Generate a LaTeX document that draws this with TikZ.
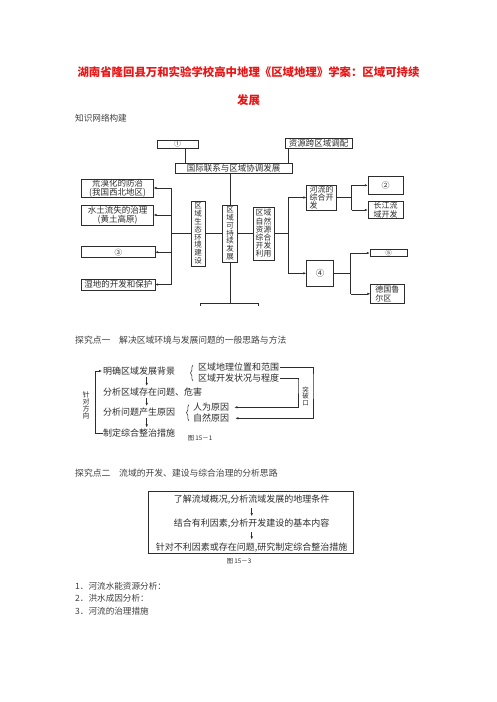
\documentclass[tikz,border=0pt]{standalone}
\usepackage{fontspec}
\setmainfont{Noto Sans CJK SC}
\usetikzlibrary{arrows.meta,decorations.pathreplacing,calc}
\definecolor{titlered}{RGB}{232,22,22}
\definecolor{ink}{RGB}{45,45,45}
\newcommand{\myfs}[1]{\fontsize{#1}{#1}\selectfont}
\begin{document}
\begin{tikzpicture}[x=1pt,y=-1pt,
  bx/.style={draw=ink,line width=0.5pt,inner sep=0pt,align=center,text=ink,font=\fontsize{8.5}{9}\selectfont},
  vt/.style={font=\fontsize{7.5}{7.8}\selectfont},
  vt2/.style={font=\fontsize{7.8}{8.2}\selectfont},
  ln/.style={draw=ink,line width=0.5pt},
  arr/.style={ln,-{Latex[length=3pt,width=2.4pt]}},
  tx/.style={anchor=west,inner sep=0pt,text=ink,font=\myfs{9}},
  lbl/.style={anchor=west,inner sep=0pt,text=black!75,font=\myfs{8.8}},
  figcap/.style={inner sep=0pt,text=ink,font=\myfs{6.3}}]
\useasboundingbox (0,0) rectangle (496,702);
\fill[white] (0,0) rectangle (496,702);

% title
\node[inner sep=0pt,text=titlered,font=\bfseries\myfs{11.4}] (title1) at (248.5,72) {湖南省隆回县万和实验学校高中地理《区域地理》学案：区域可持续};
\node[inner sep=0pt,text=titlered,font=\bfseries\myfs{11.4}] (title2) at (248.5,100) {发展};
\node[lbl,font=\myfs{8.6}] (sec0) at (75,118) {知识网络构建};

% ---------- diagram 1 ----------
\node[bx,minimum width=41pt,minimum height=8.5pt,font=\myfs{7}] (n1) at (177.5,144) {①};
\node[bx,minimum width=67pt,minimum height=10pt] (res) at (318.5,143) {资源跨区域调配};
\node[bx,minimum width=117pt,minimum height=10pt] (intl) at (233.5,168) {国际联系与区域协调发展};
\node[bx,vt,minimum width=14.6pt,minimum height=57pt] (sus) at (230,233.5) {区\\域\\可\\持\\续\\发\\展};
\node[bx,vt,minimum width=14pt,minimum height=65pt] (eco) at (198,233.5) {区\\域\\生\\态\\环\\境\\建\\设};
\node[bx,vt2,minimum width=21pt,minimum height=53pt] (nat) at (263.5,233.5) {区域\\自然\\资源\\综合\\开发\\利用};

\node[bx,minimum width=71.6pt,minimum height=17.4pt] (L1) at (117.5,188) {荒漠化的防治\\(我国西北地区)};
\node[bx,minimum width=71.6pt,minimum height=20pt] (L2) at (117.5,215) {水土流失的治理\\(黄土高原)};
\node[bx,minimum width=73.3pt,minimum height=11pt,font=\myfs{7.5}] (L3) at (118.3,252.2) {③};
\node[bx,minimum width=73.3pt,minimum height=11pt] (L4) at (118.3,284.5) {湿地的开发和保护};

\node[bx,align=left,minimum width=30pt,minimum height=25pt,font=\fontsize{8}{8.3}\selectfont] (river) at (321.7,197.5) {河流的\\综合开\\发};
\node[bx,minimum width=27pt,minimum height=26.7pt,font=\myfs{8.5}] (four) at (320,273.3) {④};
\node[bx,minimum width=35pt,minimum height=17.3pt,font=\myfs{8}] (two) at (385.5,185.3) {②};
\node[bx,align=left,minimum width=35pt,minimum height=16.7pt,font=\fontsize{8}{8.3}\selectfont] (cj) at (385.5,210) {长江流\\域开发};
\node[bx,minimum width=37pt,minimum height=7.4pt,font=\myfs{6.5}] (five) at (388.5,253) {⑤};
\node[bx,align=left,minimum width=33.3pt,minimum height=19pt,font=\fontsize{8}{8.3}\selectfont] (ruhr) at (387.3,293.8) {德国鲁\\尔区};

\begin{scope}
\clip (0,0) rectangle (496,305.5);
\node[bx,minimum width=58pt,minimum height=16pt] (bbox) at (229,311) {};
\end{scope}

% connectors
\draw[ln] ([xshift=7.5pt]n1.south) -- ([xshift=7.5pt]n1.south |- intl.north);
\draw[ln] ([xshift=-30.5pt]res.south) -- ([xshift=-30.5pt]res.south |- intl.north);
\draw[ln] (sus.north |- intl.south) -- (sus.north);
\draw[ln] (sus.south) -- (sus.south |- bbox.north);
\coordinate (lv) at (171,233.5);
\coordinate (rv) at (288.3,233.5);
\draw[ln] (eco.east) -- (sus.west);
\draw[ln] (sus.east) -- (nat.west);
\draw[ln] (eco.west) -- (lv);
\draw[ln] (lv |- L1.east) -- (lv |- L4.east);
\foreach \b in {L1,L2,L3,L4} \draw[arr] (lv |- \b.east) -- (\b.east);
\draw[ln] (nat.east) -- (rv);
\draw[ln] (rv |- river.west) -- (rv |- four.west);
\draw[arr] (rv |- river.west) -- (river.west);
\draw[arr] (rv |- four.west) -- (four.west);
\coordinate (rv2) at (351.7,197.5);
\draw[ln] (river.east) -- (rv2);
\draw[ln] (rv2 |- two.west) -- (rv2 |- cj.west);
\draw[arr] (rv2 |- two.west) -- (two.west);
\draw[arr] (rv2 |- cj.west) -- (cj.west);
\coordinate (rv3) at (350.7,273.3);
\draw[ln] (four.east) -- (rv3);
\draw[ln] (rv3 |- five.west) -- (rv3 |- ruhr.west);
\draw[arr] (rv3 |- five.west) -- (five.west);
\draw[arr] (rv3 |- ruhr.west) -- (ruhr.west);

% ---------- section 1 ----------
\node[lbl] (sec1) at (75,340) {探究点一\quad 解决区域环境与发展问题的一般思路与方法};

\node[tx] (t1) at (103,371) {明确区域发展背景};
\node[tx] (t2) at (103,391.7) {分析区域存在问题、危害};
\node[tx] (t3) at (103,411.7) {分析问题产生原因};
\node[tx] (t4) at (103,433.3) {制定综合整治措施};
\coordinate (ax) at (146.7,0);
\draw[arr] (ax |- t1.south) ++(0,1.5) -- ($(ax |- t2.north)+(0,-1.5)$);
\draw[arr] (ax |- t2.south) ++(0,1.5) -- ($(ax |- t3.north)+(0,-1.5)$);
\draw[arr] (ax |- t3.south) ++(0,1.5) -- ($(ax |- t4.north)+(0,-1.5)$);
\coordinate (lp) at (95.7,400);
\draw[arr] (t4.west) -| (lp) |- ([xshift=-1pt]t1.west);
\node[inner sep=0pt,align=center,text=ink,font=\fontsize{7}{7}\selectfont] (zd) at (86,405) {针\\对\\方\\向};

\draw[ln,decorate,decoration={brace,amplitude=2.5pt}] (193,381) -- (193,365);
\node[tx] (r1) at (198,367.3) {区域地理位置和范围};
\node[tx] (r2) at (198,378.3) {区域开发状况与程度};
\draw[ln,decorate,decoration={brace,amplitude=2.5pt}] (189,421) -- (189,404.5);
\node[tx] (r3) at (193,407.3) {人为原因};
\node[tx] (r4) at (193,418.3) {自然原因};
\coordinate (o1) at (313,380);
\coordinate (o2) at (298,380);
\draw[arr] ([xshift=1pt]r1.east) -| (o1) |- ([xshift=6pt]r4.east);
\draw[arr] ([xshift=1pt]r2.east) -| (o2) |- ([xshift=5pt]r3.east);
\node[inner sep=0pt,align=center,text=ink,font=\fontsize{6.5}{6.5}\selectfont] (tpk) at (305.5,396) {突\\破\\口};
\node[figcap] (c1) at (200,438.5) {图\ 15－1};

% ---------- section 2 ----------
\node[lbl] (sec2) at (75,473.3) {探究点二\quad 流域的开发、建设与综合治理的分析思路};
\node[draw=ink,line width=0.5pt,minimum width=205pt,minimum height=61.6pt,inner sep=0pt] (frame) at (250.8,522.5) {};
\node[inner sep=0pt,text=ink,font=\myfs{9}] (s1) at (251.7,500) {了解流域概况,分析流域发展的地理条件};
\node[inner sep=0pt,text=ink,font=\myfs{9}] (s2) at (251.7,524) {结合有利因素,分析开发建设的基本内容};
\node[inner sep=0pt,text=ink,font=\myfs{9}] (s3) at (251.7,547.3) {针对不利因素或存在问题,研究制定综合整治措施};
\draw[arr] (s1.south) ++(0,3) -- ($(s2.north)+(0,-3)$);
\draw[arr] (s2.south) ++(0,3) -- ($(s3.north)+(0,-3)$);
\node[figcap] (c3) at (239,561.7) {图\ 15－3};

% ---------- list ----------
\node[lbl,font=\myfs{8.6}] (i1) at (75,586.7) {1．河流水能资源分析：};
\node[lbl,font=\myfs{8.6}] (i2) at (75,598.3) {2．洪水成因分析：};
\node[lbl,font=\myfs{8.6}] (i3) at (75,611.7) {3．河流的治理措施};
\end{tikzpicture}
\end{document}
